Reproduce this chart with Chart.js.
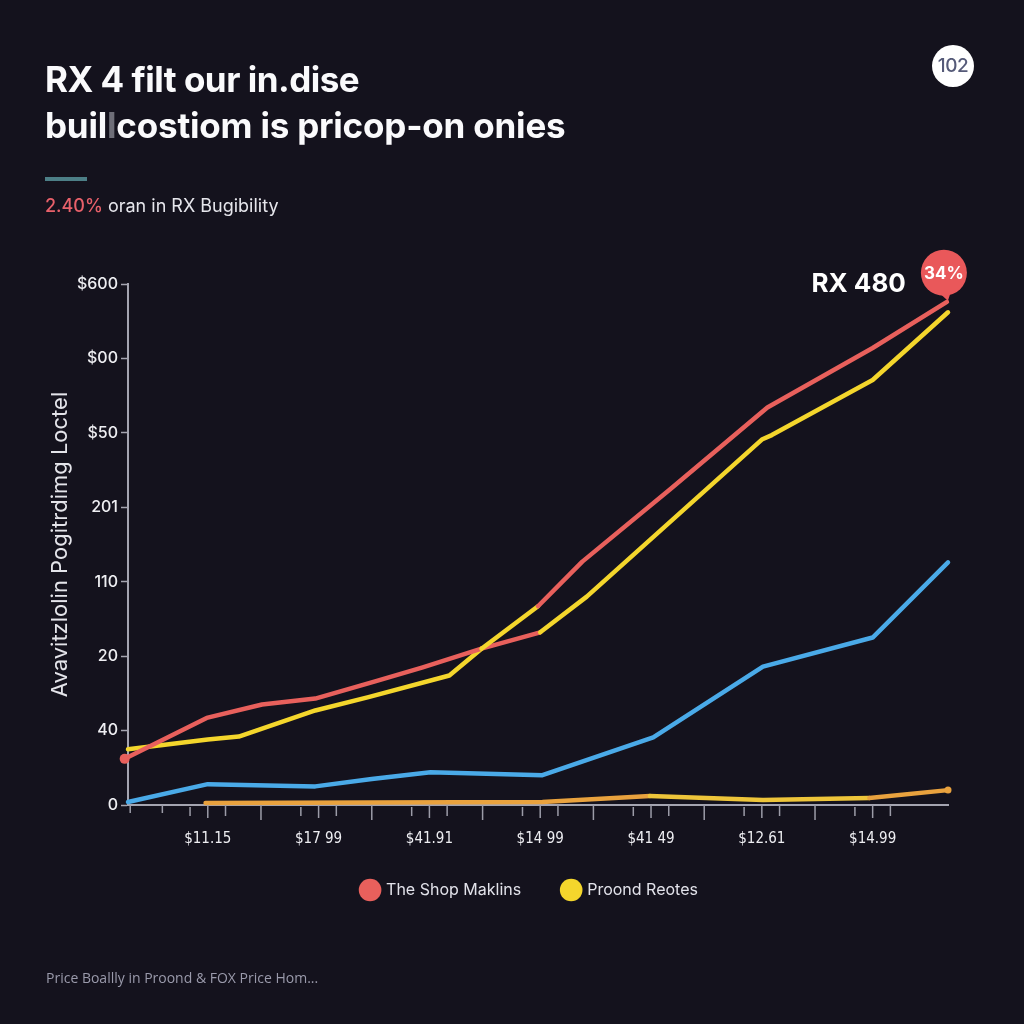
<!DOCTYPE html>
<html>
<head>
<meta charset="utf-8">
<script src="https://cdn.jsdelivr.net/npm/chart.js@4.4.1/dist/chart.umd.min.js"></script>
<style>
  html, body { margin:0; padding:0; background:#14121d; }
  #wrap { position:relative; width:1024px; height:1024px; background:#14121d; overflow:hidden; font-family: Inter, Roboto, "Noto Sans", sans-serif; }
  canvas { position:absolute; left:0; top:0; }
  .t1 { position:absolute; left:45px; top:56px; font-size:35px; font-weight:700; color:#fafafc; white-space:nowrap; letter-spacing:-0.5px; line-height:46px; }
  .t1 .l2 { letter-spacing:-0.2px; }
  .cur { color:#6e6e78; }
  .bar { position:absolute; left:45px; top:177px; width:42px; height:4px; background:#4d7f87; }
  .sub { position:absolute; left:45px; top:195px; font-size:18px; color:#e6e6ec; white-space:nowrap; }
  .sub b { color:#e8606a; font-weight:500; }
  .badge { position:absolute; left:932px; top:45px; width:42px; height:42px; border-radius:50%; background:#ffffff; color:#555a78; font-size:19px; font-weight:500; text-align:center; line-height:42px; letter-spacing:-0.5px; }
  .foot { position:absolute; left:46px; top:968px; font-size:14px; color:#9a9aab; font-family:"Open Sans", sans-serif; white-space:nowrap; }
</style>
</head>
<body>
<div id="wrap">
  <canvas id="c" width="1024" height="1024"></canvas>
  <div class="t1">RX 4 filt our in.dise<br><span class="l2">buil<span class="cur">l</span>costiom is pricop-on onies</span></div>
  <div class="bar"></div>
  <div class="sub"><b>2.40%</b> oran in RX Bugibility</div>
  <div class="badge">102</div>
  <div class="foot">Price Boallly in Proond &amp; FOX Price Hom...</div>
</div>
<script>
// ---- data (x in label units, y in axis units) ----
const xTickLabels = ['$11.15', '$17 99', '$41.91', '$14 99', '$41 49', '$12.61', '$14.99'];
const xTickValues = [1, 2, 3, 4, 5, 6, 7];
const xMinorTicks = [0.30, 0.59, 0.84, 1.00, 1.16, 1.48, 1.84, 2.00, 2.16, 2.48, 2.84, 3.00, 3.16, 3.48, 3.84, 4.00, 4.16, 4.48, 4.84, 5.00, 5.16, 5.48, 5.84, 6.00, 6.16, 6.48, 6.84, 7.00, 7.16];
const yTickLabels = ['0', '40', '20', '110', '201', '$50', '$00', '$600'];

const shopX = [0.25, 0.99, 1.49, 1.97, 2.51, 2.94, 3.47, 3.98, 4.38, 5.17, 6.05, 7.00, 7.67];
const shopY = [62, 117, 135, 143, 166, 185, 210, 267, 327, 424, 534, 614, 676];

const proondX = [0.28, 1.00, 1.28, 1.97, 2.45, 3.18, 3.47, 4.00, 4.42, 6.00, 6.09, 7.00, 7.68];
const proondY = [75, 88, 92, 127, 145, 174, 210, 232, 280, 491, 497, 571, 662];

const blueX = [0.28, 1.00, 1.97, 2.48, 3.01, 4.02, 5.02, 6.01, 7.00, 7.68];
const blueY = [4, 28, 25, 35, 44, 40, 91, 186, 225, 326];

const orangeX = [0.98, 4.02, 4.99, 6.01, 6.97, 7.68];
const orangeY = [2.7, 4, 12, 6.7, 9.4, 20];

const seriesNames = ['The Shop Maklins', 'Proond Reotes', 'Blue', 'Orange'];
const calloutName = 'RX 480';
const calloutValue = '34%';

const RED = '#e8605c', YEL = '#f4d62c', BLUE = '#4aaae8', ORG = '#e9a23e';
const pts = (xs, ys) => xs.map((x, i) => ({ x, y: ys[i] }));

const legendShift = {
  id: 'legendShift',
  afterLayout(chart) {
    const l = chart.legend;
    l.left += 56; l.right += 56;
    l.top -= 31; l.bottom -= 31;
  }
};

const annot = {
  id: 'annot',
  afterDatasetsDraw(chart) {
    const ctx = chart.ctx;
    const xs = chart.scales.x;
    const top = chart.scales.y.bottom;
    ctx.save();
    ctx.strokeStyle = '#9c9ca8';
    ctx.lineWidth = 1.5;
    xMinorTicks.forEach(v => {
      const px = xs.getPixelForValue(v);
      const f = v - Math.round(v);
      let a = 0, len = 8;
      if (Math.abs(f) < 0.02) { len = 13; }
      else if (Math.abs(f + 0.16) < 0.02) { a = 2; len = 9; }
      else if (Math.abs(f - 0.16) < 0.02) { len = 11; }
      else if (Math.abs(f - 0.48) < 0.03) { len = 15; }
      ctx.beginPath();
      ctx.moveTo(px, top + a);
      ctx.lineTo(px, top + a + len);
      ctx.stroke();
    });
    ctx.restore();
    const meta = chart.getDatasetMeta(0);
    const p = meta.data[meta.data.length - 1];
    const cx = p.x - 3, cy = p.y - 29, r = 23;
    ctx.save();
    ctx.fillStyle = '#e9585a';
    ctx.beginPath();
    ctx.moveTo(cx - 6, cy + r - 4);
    ctx.lineTo(p.x + 1, p.y - 1);
    ctx.lineTo(cx + 7, cy + r - 4);
    ctx.closePath();
    ctx.fill();
    ctx.beginPath();
    ctx.arc(cx, cy, r, 0, Math.PI * 2);
    ctx.fill();
    ctx.fillStyle = '#ffffff';
    ctx.font = '700 17px Inter, Roboto, sans-serif';
    ctx.textAlign = 'center';
    ctx.textBaseline = 'middle';
    ctx.fillText(calloutValue, cx, cy + 1);
    ctx.font = '700 26px Inter, Roboto, sans-serif';
    ctx.textAlign = 'right';
    ctx.fillText(calloutName, cx - 38, cy + 11);
    ctx.restore();
  }
};

new Chart(document.getElementById('c'), {
  type: 'line',
  data: {
    datasets: [
      {
        label: seriesNames[0], data: pts(shopX, shopY), borderColor: RED, backgroundColor: RED,
        borderWidth: 4.5, pointRadius: ctx => ctx.dataIndex === 0 ? 5 : 0, pointBackgroundColor: RED,
        pointBorderWidth: 0, clip: 12, borderCapStyle: 'round', borderJoinStyle: 'round',
        segment: { borderColor: s => s.p0DataIndex === 6 ? YEL : RED }
      },
      {
        label: seriesNames[1], data: pts(proondX, proondY), borderColor: YEL, backgroundColor: YEL,
        borderWidth: 4.5, pointRadius: 0, clip: 12, borderCapStyle: 'round', borderJoinStyle: 'round',
        segment: { borderColor: s => s.p0DataIndex === 6 ? RED : YEL }
      },
      {
        label: seriesNames[2], data: pts(blueX, blueY), borderColor: BLUE, backgroundColor: BLUE,
        borderWidth: 4.5, pointRadius: 0, clip: 12, borderCapStyle: 'round', borderJoinStyle: 'round'
      },
      {
        label: seriesNames[3], data: pts(orangeX, orangeY), borderColor: ORG, backgroundColor: ORG,
        borderWidth: 4.5, pointRadius: ctx => ctx.dataIndex === 5 ? 3.5 : 0, pointBorderWidth: 0,
        clip: 12, borderCapStyle: 'round', borderJoinStyle: 'round',
        segment: { borderColor: s => (s.p0DataIndex === 2 || s.p0DataIndex === 3) ? '#eec53a' : ORG }
      }
    ]
  },
  options: {
    responsive: false,
    animation: false,
    layout: { padding: { left: 0, right: 76, top: 284, bottom: 85 } },
    plugins: {
      legend: {
        position: 'bottom',
        labels: {
          filter: item => item.datasetIndex < 2,
          usePointStyle: true, pointStyle: 'circle', boxWidth: 19, boxHeight: 19,
          color: '#e2e2ea', font: { size: 16, family: 'Inter, Roboto, sans-serif' }, padding: 42,
          generateLabels(chart) {
            return chart.data.datasets.map((d, i) => ({
              text: d.label, fillStyle: d.borderColor, strokeStyle: d.borderColor, lineWidth: 0,
              pointStyle: 'circle', datasetIndex: i, hidden: false, fontColor: '#e2e2ea'
            }));
          }
        }
      },
      tooltip: { enabled: false }
    },
    scales: {
      x: {
        type: 'linear', min: 0.28, max: 7.68,
        afterBuildTicks: s => { s.ticks = xTickValues.map(v => ({ value: v })); },
        afterFit: s => { s.height = 66; },
        grid: { display: false, drawTicks: false },
        border: { display: true, color: '#a4a4b0', width: 2 },
        ticks: {
          padding: 25, color: '#eeeef2', maxRotation: 0, autoSkip: false,
          font: { size: 15, family: '"DejaVu Sans Condensed", "Liberation Sans Narrow", Roboto, sans-serif' },
          callback: (v, i) => xTickLabels[i]
        }
      },
      y: {
        type: 'linear', min: 0, max: 700,
        afterBuildTicks: s => { s.ticks = yTickLabels.map((t, i) => ({ value: i * 100 })); },
        afterFit: s => { s.width = 128; },
        grid: { display: true, drawOnChartArea: false, drawTicks: true, tickLength: 7, tickColor: '#a4a4b0', tickWidth: 1.5 },
        border: { display: true, color: '#a4a4b0', width: 2 },
        ticks: {
          padding: 3, color: '#eeeef2', font: { size: 16, weight: 500, family: 'Inter, Roboto, sans-serif' },
          callback: (v, i) => yTickLabels[i]
        },
        title: {
          display: true, text: 'Avavitzlolin Pogitrdimg Loctel', color: '#e4e4ea',
          font: { size: 22, family: 'Inter, Roboto, sans-serif' }, padding: { top: 47, bottom: 0 }
        }
      }
    }
  },
  plugins: [legendShift, annot]
});
</script>
</body>
</html>
